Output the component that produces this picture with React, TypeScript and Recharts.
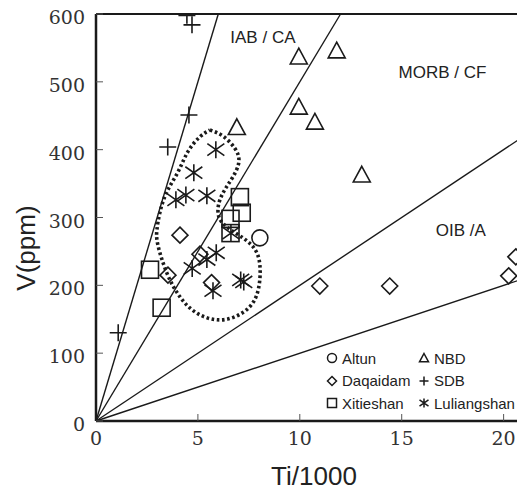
import React from "react";
import {
  Label,
  ReferenceDot,
  ReferenceLine,
  Scatter,
  ScatterChart,
  XAxis,
  YAxis,
} from "recharts";

// Ti/1000 vs V (ppm), Shervais discrimination diagram
const altun = [{ ti: 8.04, v: 270 }];

const daqaidam = [
  { ti: 4.12, v: 274 },
  { ti: 3.53, v: 215 },
  { ti: 5.1, v: 246 },
  { ti: 5.67, v: 204 },
  { ti: 10.98, v: 199 },
  { ti: 14.41, v: 199 },
  { ti: 20.25, v: 214 },
  { ti: 20.6, v: 242 },
];

const xitieshan = [
  { ti: 2.65, v: 223 },
  { ti: 3.22, v: 167 },
  { ti: 7.06, v: 330 },
  { ti: 7.15, v: 307 },
  { ti: 6.6, v: 298 },
  { ti: 6.6, v: 277 },
];

const nbd = [
  { ti: 6.91, v: 433 },
  { ti: 9.95, v: 537 },
  { ti: 11.81, v: 546 },
  { ti: 9.95, v: 463 },
  { ti: 10.74, v: 441 },
  { ti: 13.04, v: 363 },
];

const sdb = [
  { ti: 4.46, v: 598 },
  { ti: 4.71, v: 584 },
  { ti: 4.56, v: 451 },
  { ti: 3.52, v: 404 },
  { ti: 1.09, v: 130 },
];

const luliangshan = [
  { ti: 5.88, v: 400 },
  { ti: 4.8, v: 366 },
  { ti: 4.41, v: 333 },
  { ti: 3.92, v: 326 },
  { ti: 5.44, v: 332 },
  { ti: 6.62, v: 277 },
  { ti: 5.9, v: 248 },
  { ti: 5.44, v: 238 },
  { ti: 4.72, v: 225 },
  { ti: 5.74, v: 192 },
  { ti: 7.1, v: 208 },
  { ti: 7.25, v: 205 },
];

// dotted envelope around the Luliangshan samples
const envelope = [
  { ti: 5.59, v: 429 },
  { ti: 6.23, v: 420 },
  { ti: 6.81, v: 402 },
  { ti: 7.01, v: 382 },
  { ti: 6.72, v: 360 },
  { ti: 6.32, v: 341 },
  { ti: 6.03, v: 321 },
  { ti: 6.03, v: 301 },
  { ti: 6.42, v: 286 },
  { ti: 7.06, v: 273 },
  { ti: 7.7, v: 257 },
  { ti: 8.04, v: 230 },
  { ti: 7.89, v: 186 },
  { ti: 7.16, v: 159 },
  { ti: 6.08, v: 149 },
  { ti: 4.95, v: 159 },
  { ti: 4.12, v: 183 },
  { ti: 3.48, v: 218 },
  { ti: 3.04, v: 259 },
  { ti: 2.99, v: 282 },
  { ti: 3.14, v: 308 },
  { ti: 3.48, v: 338 },
  { ti: 4.02, v: 367 },
  { ti: 4.51, v: 397 },
  { ti: 5.1, v: 419 },
  { ti: 5.59, v: 429 },
];

// Ti/V ratio lines
const tiVRatios = [10, 20, 50, 100];

const fields = [
  { name: "IAB / CA", ti: 8.19, v: 566 },
  { name: "MORB / CF", ti: 17.0, v: 515 },
  { name: "OIB /A", ti: 17.9, v: 282 },
];

const xTicks = [0, 5, 10, 15, 20];
const yTicks = [0, 100, 200, 300, 400, 500, 600];
const X_MAX = 21;
const Y_MAX = 600;

const INK = "#1a1a1a";
const SANS = "'Liberation Sans', Arial, sans-serif";
const SERIF = "'DejaVu Serif', 'Liberation Serif', serif";

type Mark = "circle" | "diamond" | "square" | "triangle" | "plus" | "star";

function marker(kind: Mark, cx: number, cy: number, s: number, sw: number) {
  const p = { fill: "none", stroke: INK, strokeWidth: sw };
  switch (kind) {
    case "circle":
      return <circle cx={cx} cy={cy} r={s} {...p} />;
    case "diamond":
      return (
        <path
          d={`M${cx},${cy - s}L${cx + s},${cy}L${cx},${cy + s}L${cx - s},${cy}Z`}
          {...p}
        />
      );
    case "square":
      return <rect x={cx - s} y={cy - s} width={s * 2} height={s * 2} {...p} />;
    case "triangle":
      return (
        <path
          d={`M${cx},${cy - s}L${cx + s},${cy + s * 0.85}L${cx - s},${cy + s * 0.85}Z`}
          {...p}
        />
      );
    case "plus":
      return (
        <path
          d={`M${cx - s},${cy}H${cx + s}M${cx},${cy - s}V${cy + s}`}
          {...p}
        />
      );
    default:
      return (
        <path
          d={`M${cx},${cy - s}V${cy + s}M${cx - s},${cy - s * 0.7}L${cx + s},${cy + s * 0.7}M${cx - s},${cy + s * 0.7}L${cx + s},${cy - s * 0.7}`}
          {...p}
        />
      );
  }
}

const series: { name: string; data: { ti: number; v: number }[]; mark: Mark }[] = [
  { name: "Altun", data: altun, mark: "circle" },
  { name: "Daqaidam", data: daqaidam, mark: "diamond" },
  { name: "Xitieshan", data: xitieshan, mark: "square" },
  { name: "NBD", data: nbd, mark: "triangle" },
  { name: "SDB", data: sdb, mark: "plus" },
  { name: "Luliangshan", data: luliangshan, mark: "star" },
];

const sizes: Record<Mark, number> = {
  circle: 8,
  diamond: 8,
  square: 8.5,
  triangle: 8.5,
  plus: 8.5,
  star: 8.5,
};

const legendOrder = ["Altun", "NBD", "Daqaidam", "SDB", "Xitieshan", "Luliangshan"];

const XTick = (props: any) => (
  <text
    x={props.x}
    y={props.y + 31}
    textAnchor="middle"
    fill="#333"
    fontSize={19}
    fontFamily={SERIF}
  >
    {props.payload.value}
  </text>
);

const YTick = (props: any) => (
  <text
    x={85}
    y={props.y + 10}
    textAnchor="end"
    fill="#333"
    fontSize={19}
    fontFamily={SERIF}
  >
    {props.payload.value}
  </text>
);

export default function App() {
  return (
    <div style={{ position: "relative", width: 525, height: 493, margin: "-8px 0 0 -8px" }}>
      <ScatterChart
        width={525}
        height={493}
        margin={{ top: 14, right: 1, bottom: 32, left: 36 }}
      >
        <XAxis
          type="number"
          dataKey="ti"
          domain={[0, X_MAX]}
          ticks={xTicks}
          allowDataOverflow
          axisLine={{ stroke: INK, strokeWidth: 2.5 }}
          tickLine={{ stroke: "#555", strokeWidth: 1 }}
          tickSize={-7}
          tickMargin={0}
          height={40}
          tick={<XTick />}
        >
          <Label
            content={() => (
              <text
                x={314}
                y={485}
                textAnchor="middle"
                fill="#222"
                fontSize={26}
                fontFamily={SANS}
              >
                Ti/1000
              </text>
            )}
          />
        </XAxis>
        <YAxis
          type="number"
          dataKey="v"
          domain={[0, Y_MAX]}
          ticks={yTicks}
          allowDataOverflow
          width={60}
          axisLine={{ stroke: INK, strokeWidth: 2.5 }}
          tickLine={{ stroke: "#555", strokeWidth: 1 }}
          tickSize={-7}
          tickMargin={0}
          tick={<YTick />}
        >
          <Label
            content={() => (
              <text
                x={35}
                y={248}
                transform="rotate(-90 35 248)"
                textAnchor="middle"
                fill="#222"
                fontSize={26}
                fontFamily={SANS}
              >
                V(ppm)
              </text>
            )}
          />
        </YAxis>

        <ReferenceLine y={Y_MAX} stroke={INK} strokeWidth={2} />

        {tiVRatios.map((r) => {
          const slope = 1000 / r;
          const xEnd = Math.min(X_MAX, Y_MAX / slope);
          return (
            <ReferenceLine
              key={r}
              segment={[
                { x: 0, y: 0 },
                { x: xEnd, y: xEnd * slope },
              ]}
              stroke={INK}
              strokeWidth={1.4}
            />
          );
        })}

        {fields.map((f) => (
          <ReferenceDot
            key={f.name}
            x={f.ti}
            y={f.v}
            r={0}
            fill="none"
            stroke="none"
            label={{
              value: f.name,
              position: "center",
              fill: "#222",
              fontSize: 17,
              fontFamily: SANS,
            }}
          />
        ))}

        <Scatter
          name="envelope"
          data={envelope}
          line={{ stroke: INK, strokeWidth: 3.6, strokeDasharray: "2.6 2.6" }}
          lineJointType="natural"
          shape={() => <g />}
          isAnimationActive={false}
          legendType="none"
        />

        {series.map((s) => (
          <Scatter
            key={s.name}
            name={s.name}
            data={s.data}
            isAnimationActive={false}
            shape={(props: any) => marker(s.mark, props.cx, props.cy, sizes[s.mark], 1.6)}
          />
        ))}
      </ScatterChart>

      <div
        style={{
          position: "absolute",
          left: 326,
          top: 347,
          width: 196,
          display: "grid",
          gridTemplateColumns: "92px 104px",
          fontFamily: SANS,
          fontSize: 15,
          color: "#222",
        }}
      >
        {legendOrder.map((n) => {
          const s = series.find((e) => e.name === n)!;
          return (
            <div key={n} style={{ display: "flex", alignItems: "center", height: 22.5 }}>
              <svg width={12} height={12} style={{ marginRight: 4 }}>
                {marker(s.mark, 6, 6, 4.5, 1.5)}
              </svg>
              <span>{n}</span>
            </div>
          );
        })}
      </div>
    </div>
  );
}
